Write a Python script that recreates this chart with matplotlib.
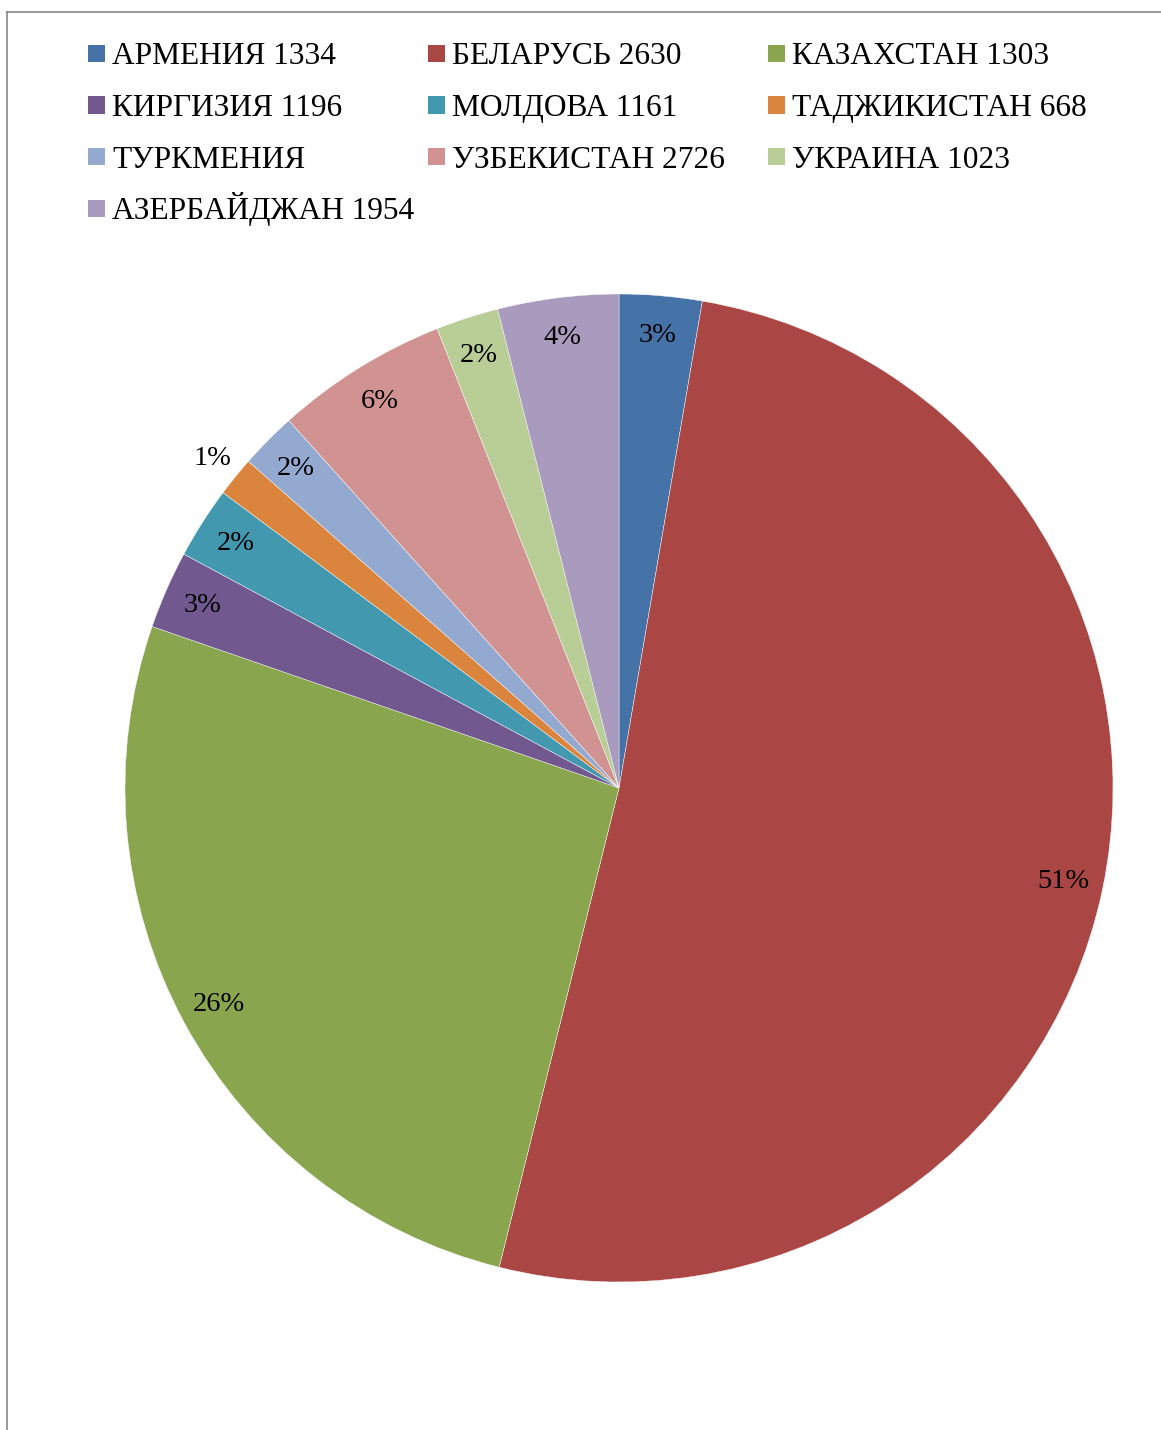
import matplotlib
matplotlib.use("Agg")
import matplotlib.pyplot as plt
from matplotlib.patches import Rectangle
from matplotlib.lines import Line2D
import numpy as np

plt.rcParams['font.family'] = ['Liberation Serif', 'DejaVu Serif']

# legend entries (as written on the chart)
labels = ["АРМЕНИЯ 1334", "БЕЛАРУСЬ 2630", "КАЗАХСТАН 1303",
          "КИРГИЗИЯ 1196", "МОЛДОВА 1161", "ТАДЖИКИСТАН 668",
          "ТУРКМЕНИЯ", "УЗБЕКИСТАН 2726", "УКРАИНА 1023",
          "АЗЕРБАЙДЖАН 1954"]
# slice shares
shares = [2.7, 51.2, 26.4, 2.55, 2.35, 1.3, 1.85, 5.65, 2.05, 3.95]
colors = ["#4572A7", "#AA4643", "#89A54E", "#71588F", "#4198AF",
          "#DB843D", "#93A9CF", "#D19392", "#B9CD96", "#A99BBD"]

W, H = 1161, 1430
fig = plt.figure(figsize=(W / 100, H / 100), dpi=100)

# pie area
cx, cy, r = 619, 788, 494
ax = fig.add_axes([(cx - r) / W, (H - cy - r) / H, 2 * r / W, 2 * r / H])
wedges, _ = ax.pie(shares, colors=colors, startangle=90, counterclock=False,
                   radius=1, wedgeprops=dict(edgecolor="white", linewidth=0.3))
ax.set_xlim(-1, 1)
ax.set_ylim(-1, 1)
ax.set_aspect("equal")
ax.axis("off")

total = sum(shares)
for w, v in zip(wedges, shares):
    pct = v / total * 100
    mid = np.deg2rad((w.theta1 + w.theta2) / 2)
    d = 1.06 if pct < 1.5 else 0.92
    ax.text(d * np.cos(mid), d * np.sin(mid), "%d%%" % round(pct),
            ha="center", va="center", fontsize=20.5, color="black")

# legend: 3 fixed-width columns
col_x = [88, 428, 768]
row_y = [53.5, 105, 156.5, 208]
sq = 17
for i, (lab, c) in enumerate(zip(labels, colors)):
    x0 = col_x[i % 3]
    y0 = row_y[i // 3]
    fig.patches.append(Rectangle((x0 / W, (H - y0 - sq / 2) / H), sq / W, sq / H,
                                 transform=fig.transFigure, facecolor=c,
                                 edgecolor="none"))
    fig.text((x0 + 24) / W, (H - y0 - 11) / H, lab, fontsize=22.6,
             ha="left", va="baseline", color="black")

# chart frame (top and left edges visible)
fig.lines.append(Line2D([7 / W, 1], [1 - 12 / H, 1 - 12 / H],
                        transform=fig.transFigure, color="#888888", lw=1.2))
fig.lines.append(Line2D([7 / W, 7 / W], [0, 1 - 12 / H],
                        transform=fig.transFigure, color="#888888", lw=1.2))

fig.savefig("out.png", dpi=100, facecolor="white")
